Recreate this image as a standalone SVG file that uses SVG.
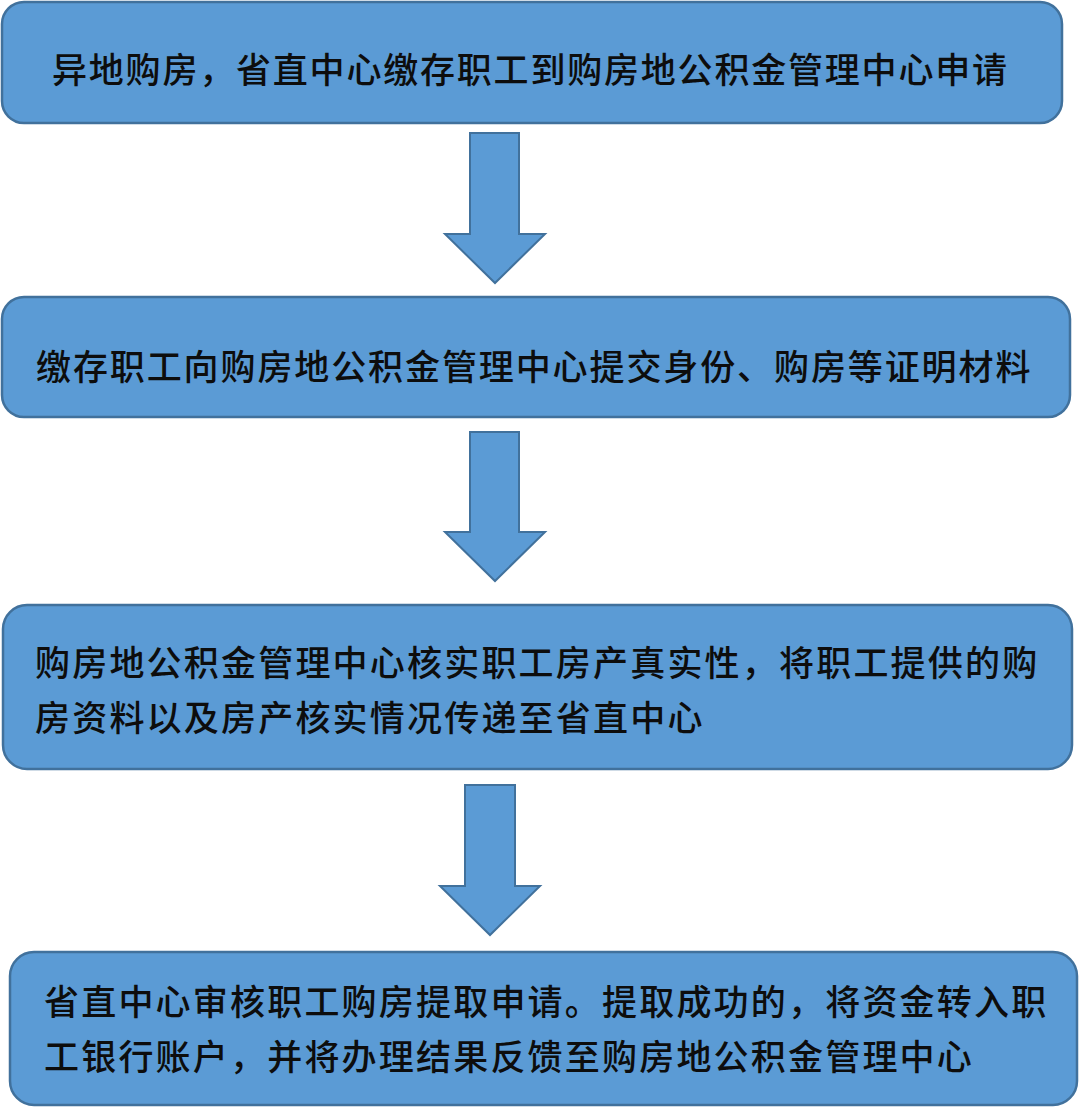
<svg xmlns="http://www.w3.org/2000/svg" width="1080" height="1109" viewBox="0 0 1080 1109">
  <style>
    .box { fill: #5B9BD5; stroke: #41719C; stroke-width: 2.5; }
    .arrow { fill: #5B9BD5; stroke: #41719C; stroke-width: 2; stroke-linejoin: miter; }
    .label { font-family: "Noto Sans CJK SC", "Noto Sans", sans-serif; font-size: 35px; font-weight: 500; fill: #0d0d0d; dominant-baseline: central; }
  </style>
  <rect width="1080" height="1109" fill="#ffffff"/>
  <g id="node1">
    <rect class="box" x="2" y="2" width="1060" height="121" rx="22" ry="22"/>
    <text class="label" x="52" y="67" letter-spacing="1.8">异地购房，省直中心缴存职工到购房地公积金管理中心申请</text>
  </g>
  <g id="node2">
    <rect class="box" x="2" y="297" width="1068" height="120" rx="22" ry="22"/>
    <text class="label" x="36" y="364" letter-spacing="1.9">缴存职工向购房地公积金管理中心提交身份、购房等证明材料</text>
  </g>
  <g id="node3">
    <rect class="box" x="3" y="605" width="1069" height="164" rx="24" ry="24"/>
    <text class="label" x="35" y="660" letter-spacing="2.2">购房地公积金管理中心核实职工房产真实性，将职工提供的购</text>
    <text class="label" x="35" y="715" letter-spacing="2.2">房资料以及房产核实情况传递至省直中心</text>
  </g>
  <g id="node4">
    <rect class="box" x="10" y="952" width="1067" height="153" rx="24" ry="24"/>
    <text class="label" x="44" y="999" letter-spacing="2.2">省直中心审核职工购房提取申请。提取成功的，将资金转入职</text>
    <text class="label" x="44" y="1054" letter-spacing="2.2">工银行账户，并将办理结果反馈至购房地公积金管理中心</text>
  </g>
  <g id="connectors">
    <polygon class="arrow" points="470,133 519,133 519,234 545,234 495,283 445,234 470,234"/>
    <polygon class="arrow" points="470,432 519,432 519,532 545,532 495,581 445,532 470,532"/>
    <polygon class="arrow" points="465,785 515,785 515,886 540,886 490,935 440,886 465,886"/>
  </g>
</svg>
